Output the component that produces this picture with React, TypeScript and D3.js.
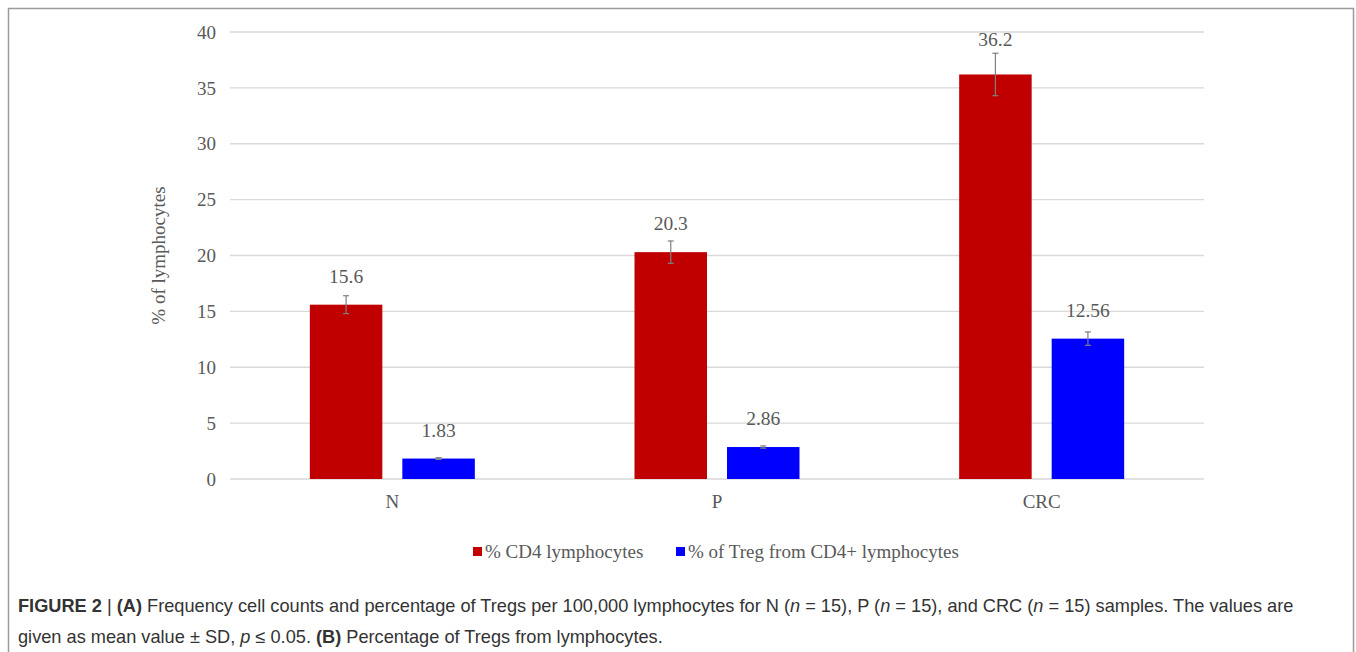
import React from "react";
import * as d3 from "d3";

const categories = ["N", "P", "CRC"];
const seriesNames = ["% CD4 lymphocytes", "% of Treg from CD4+ lymphocytes"];
const cd4Values = [15.6, 20.3, 36.2];
const cd4Errors = [0.8, 1.0, 1.9];
const tregValues = [1.83, 2.86, 12.56];
const tregErrors = [0.08, 0.1, 0.6];
const cd4Labels = ["15.6", "20.3", "36.2"];
const tregLabels = ["1.83", "2.86", "12.56"];
const yTicks = [0, 5, 10, 15, 20, 25, 30, 35, 40];
const yLabel = "% of lymphocytes";

const W = 1356;
const H = 652;
const plot = { left: 230, right: 1204, top: 32, bottom: 479 };
const colors = ["#C00000", "#0000FF"];
const serif = "'Liberation Serif', 'Times New Roman', serif";
const capFont = "'Liberation Sans', Arial, sans-serif";
const textGray = "#595959";

export default function App() {
  const x = d3.scaleBand<string>().domain(categories).range([plot.left, plot.right]);
  const y = d3.scaleLinear().domain([0, 40]).range([plot.bottom, plot.top]);
  const barW = 72.5;
  const gap = 20;
  const series = [
    { vals: cd4Values, errs: cd4Errors, labels: cd4Labels, color: colors[0] },
    { vals: tregValues, errs: tregErrors, labels: tregLabels, color: colors[1] },
  ];
  return (
    <svg width={W} height={H} style={{ position: "absolute", left: 0, top: 0, background: "#fff" }}>
      <rect x={8.5} y={8.5} width={1345} height={660} fill="none" stroke="#9a9a9a" strokeWidth={1.5} />
      {yTicks.map((t) => (
        <g key={t}>
          <line x1={plot.left} x2={plot.right} y1={y(t)} y2={y(t)} stroke="#d9d9d9" strokeWidth={1.3} />
          <text x={216} y={y(t)} dy="0.35em" textAnchor="end" fontFamily={serif} fontSize={19} fill={textGray}>
            {t}
          </text>
        </g>
      ))}
      <text
        transform={`translate(165, ${(plot.top + plot.bottom) / 2}) rotate(-90)`}
        textAnchor="middle"
        fontFamily={serif}
        fontSize={19}
        fill={textGray}
      >
        {yLabel}
      </text>
      {categories.map((c, i) => {
        const cx = (x(c) as number) + x.bandwidth() / 2;
        return (
          <g key={c}>
            {series.map((s, si) => {
              const bx = si === 0 ? cx - gap / 2 - barW : cx + gap / 2;
              const v = s.vals[i];
              const e = s.errs[i];
              const mx = bx + barW / 2;
              const ly = Math.min(y(v) - 22, y(v + e) - 7);
              return (
                <g key={si}>
                  <rect x={bx} y={y(v)} width={barW} height={y(0) - y(v)} fill={s.color} />
                  <line x1={mx} x2={mx} y1={y(v + e)} y2={y(v - e)} stroke="#7f7f7f" strokeWidth={1.2} />
                  <line x1={mx - 3} x2={mx + 3} y1={y(v + e)} y2={y(v + e)} stroke="#7f7f7f" strokeWidth={1.2} />
                  <line x1={mx - 3} x2={mx + 3} y1={y(v - e)} y2={y(v - e)} stroke="#7f7f7f" strokeWidth={1.2} />
                  <text x={mx} y={ly} textAnchor="middle" fontFamily={serif} fontSize={19.5} fill={textGray}>
                    {s.labels[i]}
                  </text>
                </g>
              );
            })}
            <text x={cx} y={508} textAnchor="middle" fontFamily={serif} fontSize={19} fill={textGray}>
              {c}
            </text>
          </g>
        );
      })}
      {[473, 676].map((lx, i) => (
        <g key={i}>
          <rect x={lx} y={547} width={9} height={9} fill={colors[i]} />
          <text x={lx + 12} y={558} fontFamily={serif} fontSize={19} fill={textGray}>
            {seriesNames[i]}
          </text>
        </g>
      ))}
      <text x={18} y={612} fontFamily={capFont} fontSize={18.2} fill="#333">
        <tspan fontWeight="bold">FIGURE 2</tspan>
        <tspan> | </tspan>
        <tspan fontWeight="bold">(A)</tspan>
        <tspan> Frequency cell counts and percentage of Tregs per 100,000 lymphocytes for N (</tspan>
        <tspan fontStyle="italic">n</tspan>
        <tspan> = 15), P (</tspan>
        <tspan fontStyle="italic">n</tspan>
        <tspan> = 15), and CRC (</tspan>
        <tspan fontStyle="italic">n</tspan>
        <tspan> = 15) samples. The values are</tspan>
      </text>
      <text x={18} y={643} fontFamily={capFont} fontSize={18.2} fill="#333">
        <tspan>given as mean value ± SD, </tspan>
        <tspan fontStyle="italic">p</tspan>
        <tspan> ≤ 0.05. </tspan>
        <tspan fontWeight="bold">(B)</tspan>
        <tspan> Percentage of Tregs from lymphocytes.</tspan>
      </text>
    </svg>
  );
}
